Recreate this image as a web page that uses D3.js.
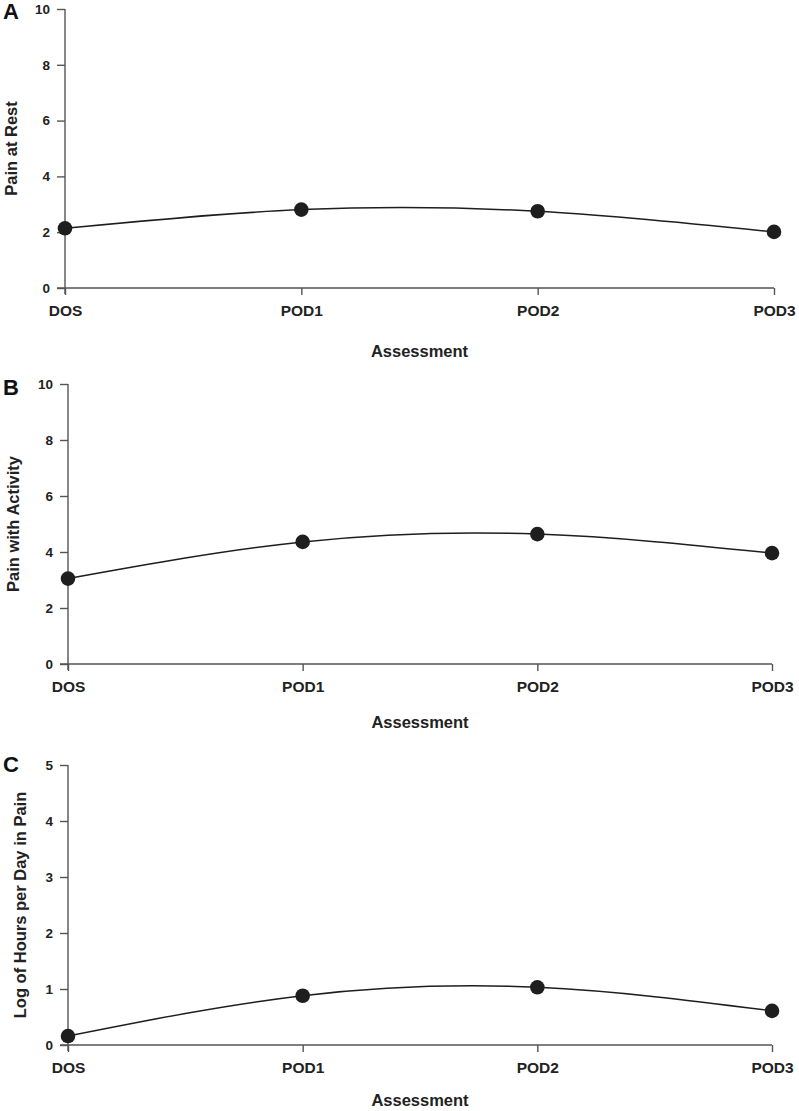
<!DOCTYPE html>
<html>
<head>
<meta charset="utf-8">
<script src="https://cdn.jsdelivr.net/npm/d3@7"></script>
<style>
  html, body { margin: 0; padding: 0; background: #fff; }
  svg { display: block; font-family: "Liberation Sans", Arial, sans-serif; }
</style>
</head>
<body>
<svg id="chart" width="799" height="1111"></svg>
<script>
// ---- Data ----
const categories = ["DOS", "POD1", "POD2", "POD3"];
const painAtRest = [2.14, 2.81, 2.75, 2.01];
const painWithActivity = [3.05, 4.36, 4.64, 3.96];
const logHoursInPain = [0.16, 0.88, 1.03, 0.61];
const ticksPain = [0, 2, 4, 6, 8, 10];
const ticksLog = [0, 1, 2, 3, 4, 5];
const panelLetters = ["A", "B", "C"];
const yTitles = ["Pain at Rest", "Pain with Activity", "Log of Hours per Day in Pain"];
const xTitle = "Assessment";

// ---- Layout ----
const panels = [
  { letter: panelLetters[0], values: painAtRest, ticks: ticksPain, yMax: 10, title: yTitles[0],
    x0: 65, x1: 774, yTop: 9, yBot: 288, titleX: 17, letterDy: 10, xTitleDy: 69 },
  { letter: panelLetters[1], values: painWithActivity, ticks: ticksPain, yMax: 10, title: yTitles[1],
    x0: 68, x1: 772, yTop: 384, yBot: 664, titleX: 19, letterDy: 11, xTitleDy: 64 },
  { letter: panelLetters[2], values: logHoursInPain, ticks: ticksLog, yMax: 5, title: yTitles[2],
    x0: 68, x1: 772, yTop: 765, yBot: 1045, titleX: 26, letterDy: 7, xTitleDy: 61 }
];

const svg = d3.select("#chart");
const axisColor = "#555";
const inkColor = "#1e1e1e";

panels.forEach(p => {
  const x = d3.scalePoint().domain(categories).range([p.x0, p.x1]);
  const y = d3.scaleLinear().domain([0, p.yMax]).range([p.yBot, p.yTop]);
  const g = svg.append("g");

  // y axis
  const yAxis = d3.axisLeft(y).tickValues(p.ticks).tickFormat(d3.format("d")).tickSizeOuter(0).tickSize(8).tickPadding(7);
  const ya = g.append("g").attr("transform", `translate(${p.x0},0)`).call(yAxis);
  ya.select(".domain").attr("stroke", axisColor).attr("stroke-width", 1.4)
    .attr("d", `M0,${p.yTop}V${p.yBot + 6}`);
  ya.selectAll(".tick line").attr("stroke", axisColor).attr("stroke-width", 1.4);
  ya.selectAll(".tick text").attr("fill", "#222").attr("font-size", 13.5).attr("font-weight", "bold");

  // x axis
  const xAxis = d3.axisBottom(x).tickSizeOuter(0).tickSize(7).tickPadding(10);
  const xa = g.append("g").attr("transform", `translate(0,${p.yBot})`).call(xAxis);
  xa.select(".domain").attr("stroke", axisColor).attr("stroke-width", 1.4)
    .attr("d", `M${p.x0 - 8},0H${p.x1}`);
  xa.selectAll(".tick line").attr("stroke", axisColor).attr("stroke-width", 1.4);
  xa.selectAll(".tick text").attr("fill", "#222").attr("font-size", 15.5).attr("font-weight", "bold");

  // titles
  g.append("text").attr("x", (p.x0 + p.x1) / 2).attr("y", p.yBot + p.xTitleDy)
    .attr("text-anchor", "middle").attr("font-size", 16.5).attr("font-weight", "bold").attr("fill", "#222")
    .text(xTitle);
  g.append("text")
    .attr("transform", `translate(${p.titleX},${(p.yTop + p.yBot) / 2}) rotate(-90)`)
    .attr("text-anchor", "middle").attr("font-size", 16.5).attr("font-weight", "bold").attr("fill", "#222")
    .text(p.title);
  g.append("text").attr("x", 3).attr("y", p.yTop + p.letterDy)
    .attr("font-size", 22).attr("font-weight", "bold").attr("fill", "#111")
    .text(p.letter);

  // line
  const line = d3.line().x((d, i) => x(categories[i])).y(d => y(d)).curve(d3.curveNatural);
  g.append("path").datum(p.values).attr("d", line)
    .attr("fill", "none").attr("stroke", inkColor).attr("stroke-width", 1.5);

  // dots
  g.selectAll("circle").data(p.values).join("circle")
    .attr("cx", (d, i) => x(categories[i])).attr("cy", d => y(d)).attr("r", 7.3)
    .attr("fill", inkColor);
});
</script>
</body>
</html>
